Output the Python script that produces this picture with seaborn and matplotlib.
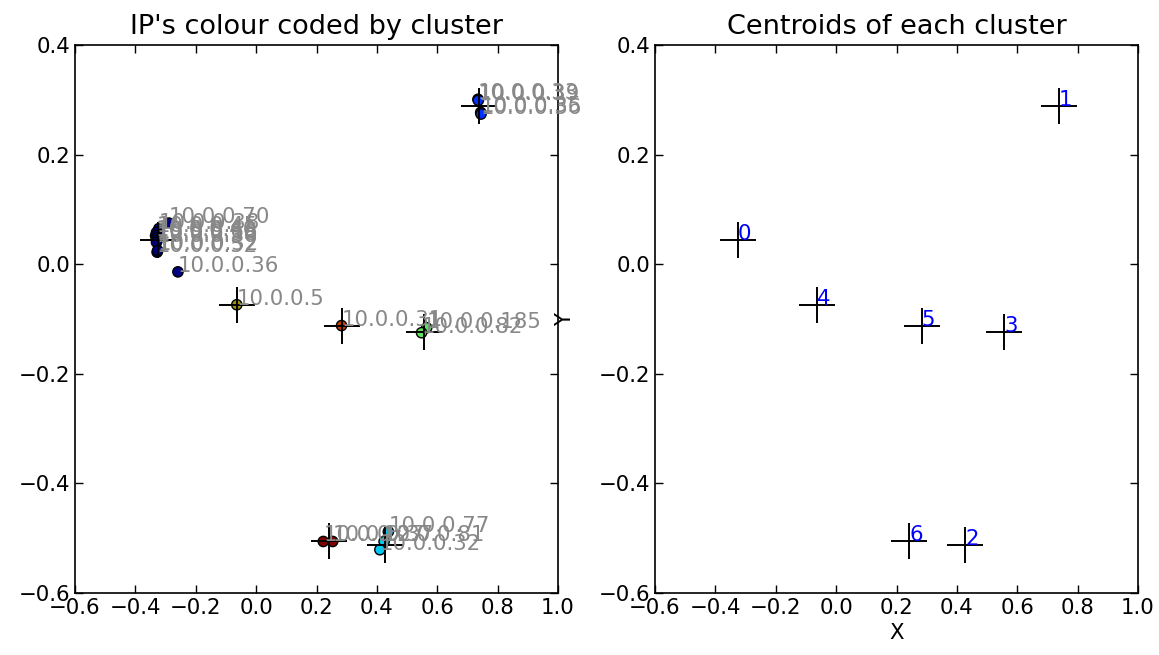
import matplotlib
matplotlib.use("Agg")
import matplotlib.pyplot as plt
import seaborn as sns
import pandas as pd

# ---- data ----
ips = ["10.0.0.33", "10.0.0.39", "10.0.0.35", "10.0.0.36",
       "10.0.0.70", "10.0.0.38", "10.0.0.45", "10.0.0.40", "10.0.0.66",
       "10.0.0.58", "10.0.0.30", "10.0.0.52", "10.0.0.32", "10.0.0.36",
       "10.0.0.5", "10.0.0.31", "10.0.0.185", "10.0.0.82",
       "10.0.0.27", "10.0.0.37", "10.0.0.77", "10.0.0.81", "10.0.0.32"]
pt_x = [0.735, 0.736, 0.744, 0.745,
        -0.289, -0.322, -0.330, -0.333, -0.330,
        -0.328, -0.330, -0.328, -0.326, -0.259,
        -0.064, 0.283, 0.565, 0.548,
        0.2225, 0.2535, 0.438, 0.424, 0.410]
pt_y = [0.301, 0.299, 0.277, 0.274,
        0.075, 0.065, 0.058, 0.052, 0.048,
        0.044, 0.040, 0.022, 0.025, -0.014,
        -0.074, -0.112, -0.116, -0.125,
        -0.506, -0.506, -0.488, -0.506, -0.521]
pt_cluster = [1, 1, 1, 1,
              0, 0, 0, 0, 0,
              0, 0, 0, 0, 0,
              4, 5, 3, 3,
              6, 6, 2, 2, 2]

cent_id = [0, 1, 2, 3, 4, 5, 6]
cent_x = [-0.325, 0.738, 0.428, 0.557, -0.065, 0.284, 0.242]
cent_y = [0.045, 0.288, -0.512, -0.123, -0.074, -0.112, -0.505]

cluster_colors = ["#000080", "#0030ff", "#00c8f0", "#60e060",
                  "#a09000", "#c83c00", "#800000"]

xticks = [-0.6, -0.4, -0.2, 0.0, 0.2, 0.4, 0.6, 0.8, 1.0]
yticks = [-0.6, -0.4, -0.2, 0.0, 0.2, 0.4]

points = pd.DataFrame({"x": pt_x, "y": pt_y, "cluster": pt_cluster, "ip": ips})
cents = pd.DataFrame({"x": cent_x, "y": cent_y, "id": cent_id})

sns.set_style("ticks")
plt.rcParams.update({
    "font.family": ["DejaVu Sans"],
    "text.color": "black", "axes.labelcolor": "black",
    "xtick.direction": "in", "ytick.direction": "in",
    "xtick.top": True, "ytick.right": True,
    "xtick.major.size": 6, "ytick.major.size": 6,
    "xtick.color": "black", "ytick.color": "black",
    "axes.edgecolor": "black", "axes.linewidth": 1.2,
})

fs = 15.3
fig = plt.figure(figsize=(11.59, 6.55), dpi=100)
ax1 = fig.add_axes([75 / 1159, 62 / 655, 483 / 1159, 548 / 655])
ax2 = fig.add_axes([655 / 1159, 62 / 655, 483 / 1159, 548 / 655])

# left: points coloured by cluster
sns.scatterplot(data=points, x="x", y="y", hue="cluster",
                palette={i: c for i, c in enumerate(cluster_colors)},
                s=55, edgecolor="black", linewidth=1.0, legend=False,
                ax=ax1, zorder=2)
sns.scatterplot(data=cents, x="x", y="y", marker="+", s=650,
                color="black", linewidth=1.4, legend=False, ax=ax1, zorder=3)
for xx, yy, t in zip(pt_x, pt_y, ips):
    ax1.text(xx, yy, t, color="#888888", fontsize=fs, zorder=4)
ax1.set_title("IP's colour coded by cluster", fontsize=19.5, pad=8, color="black")
ax1.set_xlabel("")
ax1.set_ylabel("")

# right: centroids
sns.scatterplot(data=cents, x="x", y="y", marker="+", s=650,
                color="black", linewidth=1.4, legend=False, ax=ax2, zorder=3)
for xx, yy, i in zip(cent_x, cent_y, cent_id):
    ax2.text(xx, yy, str(i), color="blue", fontsize=fs, zorder=4)
ax2.set_title("Centroids of each cluster", fontsize=19.5, pad=8, color="black")
ax2.set_xlabel("X", fontsize=fs, color="black")
ax2.set_ylabel("Y", fontsize=fs, color="black")
ax2.yaxis.set_label_coords(-0.165, 0.5)

for ax in (ax1, ax2):
    ax.set_xlim(-0.6, 1.0)
    ax.set_ylim(-0.6, 0.4)
    ax.set_xticks(xticks)
    ax.set_yticks(yticks)
    ax.tick_params(labelsize=fs, width=1, labelcolor="black")
    for sp in ax.spines.values():
        sp.set_visible(True)

fig.savefig("out.png", dpi=100)
